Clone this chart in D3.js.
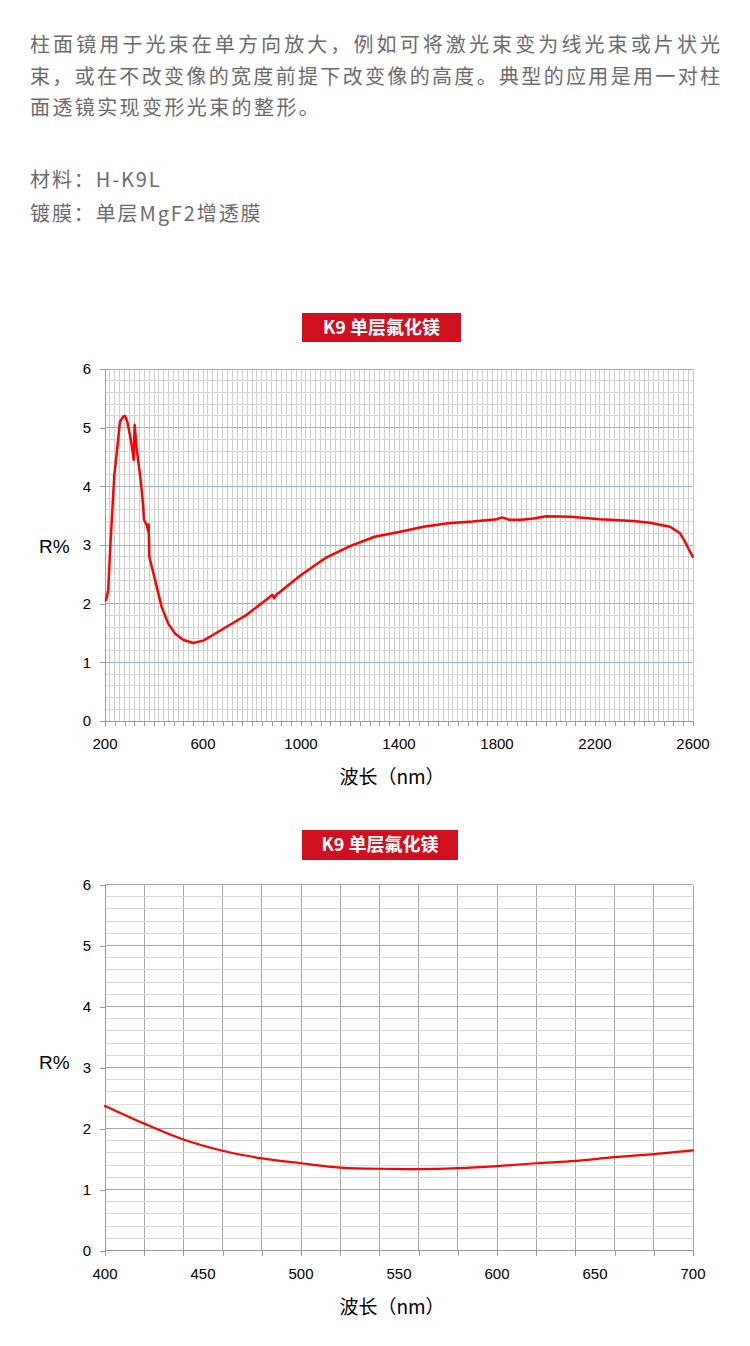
<!DOCTYPE html>
<html><head><meta charset="utf-8">
<script src="https://cdn.jsdelivr.net/npm/d3@7"></script>
<style>
html,body{margin:0;padding:0;background:#fff;}
svg{display:block;}
</style></head>
<body>
<svg id="c" width="750" height="1346"></svg>
<script>
// ---- text ----
const introLines = [
  "柱面镜用于光束在单方向放大，例如可将激光束变为线光束或片状光",
  "束，或在不改变像的宽度前提下改变像的高度。典型的应用是用一对柱",
  "面透镜实现变形光束的整形。"
];
const specLines = ["材料：H-K9L", "镀膜：单层MgF2增透膜"];
const chartTitle = "K9 单层氟化镁";
const xTitle = "波长（nm）";
const yTitle = "R%";

// ---- chart 1 data (wavelength nm, R%) ----
const wl1 = [204,213,222,230,238,248,261,275,282,291,302,310,317,321,329,339,347,356,359,370,377,378,381,391,411,431,458,486,520,560,601,642,710,778,846,884,890,901,914,
  1000,1100,1200,1300,1400,1500,1600,1700,1800,1820,1850,1900,1950,2000,2100,2220,2356,2424,2506,2547,2567,2581,2599];
const r1 = [2.06,2.23,3.0,3.6,4.19,4.57,5.1,5.19,5.2,5.1,4.87,4.67,4.45,5.05,4.65,4.33,4.05,3.65,3.43,3.34,3.23,3.35,2.8,2.63,2.29,1.95,1.66,1.49,1.38,1.33,1.37,1.47,1.64,1.81,2.03,2.15,2.09,2.16,2.2,
  2.49,2.78,2.98,3.14,3.22,3.31,3.37,3.40,3.44,3.47,3.43,3.43,3.45,3.49,3.48,3.44,3.41,3.38,3.31,3.2,3.06,2.94,2.8];
const xTicks1 = [200,600,1000,1400,1800,2200,2600];
const yTicks = [0,1,2,3,4,5,6];

// ---- chart 2 data ----
const wl2 = [400,420,440,460,480,500,520,540,560,580,600,620,640,660,680,700];
const r2 = [2.37,2.08,1.82,1.635,1.51,1.43,1.36,1.34,1.335,1.35,1.384,1.43,1.47,1.53,1.58,1.64];
const xTicks2 = [400,450,500,550,600,650,700];

const svg = d3.select("#c");
svg.append("rect").attr("width",750).attr("height",1346).attr("fill","#fff");

const cjk = "'Noto Sans CJK SC','Noto Sans',sans-serif";
const num = "'Liberation Sans','DejaVu Sans',sans-serif";

// intro text
svg.selectAll("text.intro").data(introLines).join("text")
  .attr("class","intro")
  .attr("x",30).attr("y",(d,i)=>52+i*31.5)
  .attr("font-family",cjk).attr("font-size",20).attr("fill","#6b6b6b")
  .each(function(d,i){
    const t = d3.select(this);
    if(i<2){ t.attr("textLength",690).attr("lengthAdjust","spacing"); }
    else { t.attr("letter-spacing",2.4); }
  })
  .text(d=>d);
svg.selectAll("text.spec").data(specLines).join("text")
  .attr("class","spec")
  .attr("x",30).attr("y",(d,i)=>187+i*34)
  .attr("font-family",cjk).attr("font-size",20).attr("fill","#6b6b6b")
  .attr("letter-spacing",1.9)
  .text(d=>d);

function drawChart(cfg){
  const g = svg.append("g");
  const x = d3.scaleLinear().domain(cfg.xDomain).range([105,693]);
  const y = d3.scaleLinear().domain([0,6]).range([cfg.y0, cfg.y6]);

  // title box
  g.append("rect").attr("x",cfg.box[0]).attr("y",cfg.box[1]).attr("width",cfg.box[2]).attr("height",cfg.box[3]).attr("fill","#d0101e");
  g.append("text").attr("x",cfg.box[0]+cfg.box[2]/2).attr("y",cfg.box[1]+cfg.box[3]/2)
    .attr("dy","0.36em").attr("text-anchor","middle")
    .attr("font-family",cjk).attr("font-size",18).attr("font-weight","bold").attr("fill","#fff")
    .text(chartTitle);

  // vertical grid
  const vgrid = d3.range(cfg.xDomain[0]+20, cfg.xDomain[1]+1, 20);
  g.append("g").selectAll("line").data(vgrid).join("line")
    .attr("x1",d=>x(d)).attr("x2",d=>x(d)).attr("y1",y(0)).attr("y2",y(6))
    .attr("stroke",cfg.vColor).attr("stroke-width",1).attr("shape-rendering","crispEdges");
  // horizontal minor
  const minor = d3.range(1,31).map(i=>i*0.2).filter(v=>Math.abs(v-Math.round(v))>0.01);
  g.append("g").selectAll("line").data(minor).join("line")
    .attr("x1",x.range()[0]).attr("x2",x.range()[1]).attr("y1",d=>y(d)).attr("y2",d=>y(d))
    .attr("stroke",cfg.minorColor).attr("stroke-width",1).attr("shape-rendering","crispEdges");
  // horizontal major
  g.append("g").selectAll("line").data(yTicks.slice(1)).join("line")
    .attr("x1",x.range()[0]).attr("x2",x.range()[1]).attr("y1",d=>y(d)).attr("y2",d=>y(d))
    .attr("stroke",cfg.majorColor).attr("stroke-width",1).attr("shape-rendering","crispEdges");

  // axes
  const xAxis = d3.axisBottom(x).tickValues(d3.range(cfg.xDomain[0], cfg.xDomain[1]+1, cfg.tickStep)).tickSize(5).tickFormat("");
  const ax = g.append("g").attr("transform",`translate(0,${y(0)})`).call(xAxis);
  ax.selectAll("path,line").attr("stroke","#9a9a9a").attr("shape-rendering","crispEdges");
  ax.select(".domain").attr("d",`M${x.range()[0]},0H${x.range()[1]}`);
  g.append("g").selectAll("text").data(cfg.xLabels).join("text")
    .attr("x",d=>x(d)).attr("y",y(0)+28).attr("text-anchor","middle")
    .attr("font-family",num).attr("font-size",15).attr("fill","#000").text(d=>d);

  const yAxis = d3.axisLeft(y).tickValues(yTicks).tickSize(5).tickFormat("");
  const ay = g.append("g").attr("transform",`translate(${x.range()[0]},0)`).call(yAxis);
  ay.selectAll("path,line").attr("stroke","#9a9a9a").attr("shape-rendering","crispEdges");
  ay.select(".domain").attr("d",`M0,${y(0)}V${y(6)}`);
  g.append("g").selectAll("text").data(yTicks).join("text")
    .attr("x",91).attr("y",d=>y(d)).attr("dy","0.36em").attr("text-anchor","end")
    .attr("font-family",num).attr("font-size",15).attr("fill","#000").text(d=>d);

  // titles
  g.append("text").attr("x",392).attr("y",y(0)+63).attr("text-anchor","middle")
    .attr("font-family",cjk).attr("font-size",19).attr("fill","#000").text(xTitle);
  g.append("text").attr("x",39).attr("y",y(3)+cfg.rOff).attr("dy","0.36em")
    .attr("font-family",num).attr("font-size",19).attr("fill","#000").text(yTitle);

  // line
  const line = d3.line().x(d=>x(d[0])).y(d=>y(d[1])).curve(cfg.curve);
  g.append("path").datum(d3.zip(cfg.xs, cfg.ys)).attr("d",line)
    .attr("fill","none").attr("stroke","#ff0000").attr("stroke-width",cfg.lw)
    .attr("stroke-linejoin","round").attr("stroke-linecap","round");
}

drawChart({xDomain:[200,2600], y0:721, y6:369, box:[302,313,159,29], rOff:1,
  vColor:"#cdcdcd", minorColor:"#d6d6d6", majorColor:"#95b3d7", tickStep:40,
  xLabels:xTicks1, xs:wl1, ys:r1, curve:d3.curveLinear, lw:2.5});
drawChart({xDomain:[400,700], y0:1250.5, y6:884.5, box:[302,830,156,30], rOff:-5,
  vColor:"#a8a8a8", minorColor:"#d9d9d9", majorColor:"#a8a8a8", tickStep:20,
  xLabels:xTicks2, xs:wl2, ys:r2, curve:d3.curveMonotoneX, lw:2.2});
</script>
</body></html>
